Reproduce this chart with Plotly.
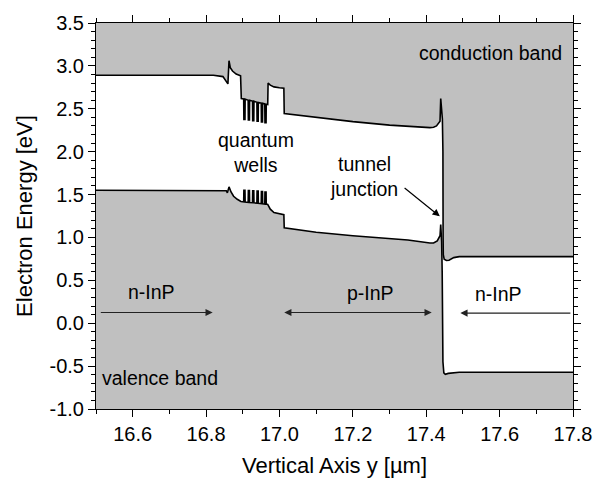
import plotly.graph_objects as go

# ---------------- data ----------------
# Conduction band edge
cb_x = [16.500, 16.820, 16.846, 16.8585, 16.8595, 16.8625, 16.866, 16.872, 16.882, 16.894, 16.896,
        16.9025, 16.9030, 16.9060, 16.9065,
        16.9147, 16.9152, 16.9182, 16.9187,
        16.9265, 16.9270, 16.9300, 16.9305,
        16.9385, 16.9390, 16.9420, 16.9425,
        16.9503, 16.9508, 16.9538, 16.9543,
        16.9600, 16.9605, 16.9635, 16.9640,
        16.968, 16.969, 16.975, 16.985, 17.000, 17.012, 17.013,
        17.100, 17.200, 17.300, 17.380, 17.410, 17.420, 17.428, 17.4376, 17.4395,
        17.4440, 17.4455, 17.4460, 17.4465, 17.449, 17.455, 17.462, 17.475, 17.490, 17.800]
cb_y = [2.890, 2.890, 2.875, 2.800, 2.790, 3.060, 2.980, 2.940, 2.905, 2.885, 2.620,
        2.615, 2.375, 2.375, 2.613,
        2.600, 2.370, 2.370, 2.598,
        2.590, 2.360, 2.360, 2.588,
        2.575, 2.355, 2.355, 2.573,
        2.565, 2.345, 2.345, 2.563,
        2.556, 2.337, 2.337, 2.554,
        2.550, 2.800, 2.775, 2.755, 2.745, 2.740, 2.444,
        2.400, 2.350, 2.310, 2.285, 2.280, 2.285, 2.300, 2.355, 2.620,
        2.380, 2.000, 1.000, 0.800, 0.745, 0.732, 0.735, 0.765, 0.776, 0.776]

# Valence band edge
vb_x = [16.500, 16.840, 16.855, 16.858, 16.8625, 16.868, 16.875, 16.885, 16.895,
        16.9025, 16.9030, 16.9060, 16.9065,
        16.9147, 16.9152, 16.9182, 16.9187,
        16.9265, 16.9270, 16.9300, 16.9305,
        16.9385, 16.9390, 16.9420, 16.9425,
        16.9503, 16.9508, 16.9538, 16.9543,
        16.9600, 16.9605, 16.9635, 16.9640,
        16.968, 16.970, 16.975, 16.985, 17.000, 17.012, 17.013,
        17.100, 17.200, 17.274, 17.350, 17.410, 17.420, 17.430, 17.4376, 17.4395,
        17.4420, 17.4435, 17.4445, 17.4455, 17.448, 17.452, 17.460, 17.475, 17.490, 17.800]
vb_y = [1.550, 1.550, 1.545, 1.520, 1.590, 1.530, 1.480, 1.445, 1.420,
        1.415, 1.550, 1.550, 1.413,
        1.410, 1.548, 1.548, 1.408,
        1.405, 1.545, 1.545, 1.403,
        1.400, 1.540, 1.540, 1.398,
        1.395, 1.535, 1.535, 1.393,
        1.390, 1.530, 1.530, 1.388,
        1.385, 1.370, 1.330, 1.290, 1.272, 1.265, 1.112,
        1.060, 1.020, 0.997, 0.970, 0.935, 0.935, 0.960, 1.020, 1.150,
        0.950, 0.600, 0.000, -0.450, -0.580, -0.595, -0.585, -0.575, -0.572, -0.572]

# Tick labels
x_tick_vals = [16.6, 16.8, 17.0, 17.2, 17.4, 17.6, 17.8]
x_tick_text = ["16.6", "16.8", "17.0", "17.2", "17.4", "17.6", "17.8"]
y_tick_vals = [-1.0, -0.5, 0.0, 0.5, 1.0, 1.5, 2.0, 2.5, 3.0, 3.5]
y_tick_text = ["-1.0", "-0.5", "0.0", "0.5", "1.0", "1.5", "2.0", "2.5", "3.0", "3.5"]

# Region labels: text, x, y
region_labels = ["n-InP", "p-InP", "n-InP"]
region_label_x = [16.651, 17.249, 17.596]
region_label_y = [0.366, 0.350, 0.338]

# Region arrows: (tail x, head x, y, double-headed)
arrow_tail_x = [16.509, 17.009, 17.797]
arrow_head_x = [16.818, 17.415, 17.493]
arrow_y = [0.125, 0.125, 0.118]
arrow_double = [False, True, False]

# ---------------- figure ----------------
FONT = "Liberation Sans, Arial, sans-serif"
GRAY = "#c0c0c0"
ANN_SIZE = 19.5

fig = go.Figure()

# white gap between the bands
fig.add_trace(go.Scatter(
    x=vb_x + cb_x[::-1], y=vb_y + cb_y[::-1],
    fill="toself", fillcolor="white", mode="lines",
    line=dict(width=0, color="rgba(0,0,0,0)"), hoverinfo="skip", showlegend=False))

fig.add_trace(go.Scatter(x=cb_x, y=cb_y, mode="lines",
                         line=dict(color="black", width=1.6), showlegend=False))
fig.add_trace(go.Scatter(x=vb_x, y=vb_y, mode="lines",
                         line=dict(color="black", width=1.6), showlegend=False))

ann = []
for t, x, y in zip(region_labels, region_label_x, region_label_y):
    ann.append(dict(x=x, y=y, text=t, showarrow=False, xref="x", yref="y",
                    font=dict(size=ANN_SIZE, color="black", family=FONT)))

for tx, hx, y, dbl in zip(arrow_tail_x, arrow_head_x, arrow_y, arrow_double):
    ann.append(dict(x=hx, y=y, ax=tx, ay=y, xref="x", yref="y", axref="x", ayref="y",
                    text="", showarrow=True, arrowhead=2, startarrowhead=2,
                    arrowside="end+start" if dbl else "end",
                    arrowsize=1.2, startarrowsize=1.2, arrowwidth=1.2, arrowcolor="#222222"))

ann.append(dict(x=17.574, y=3.156, text="conduction band", showarrow=False,
                font=dict(size=ANN_SIZE, color="black", family=FONT)))
ann.append(dict(x=16.674, y=-0.633, text="valence band", showarrow=False,
                font=dict(size=ANN_SIZE, color="black", family=FONT)))
ann.append(dict(x=16.937, y=1.985, text="quantum<br>wells", showarrow=False,
                font=dict(size=ANN_SIZE, color="black", family=FONT)))
ann.append(dict(x=17.231, y=1.71, text="tunnel<br>junction", showarrow=False,
                font=dict(size=ANN_SIZE, color="black", family=FONT)))
ann.append(dict(x=17.437, y=1.246, ax=17.337, ay=1.591, xref="x", yref="y",
                axref="x", ayref="y", text="", showarrow=True, arrowhead=2,
                arrowsize=1.2, arrowwidth=1.2, arrowcolor="black"))

fig.update_layout(
    width=605, height=480,
    margin=dict(l=96, r=32, t=17, b=71),
    paper_bgcolor="white", plot_bgcolor=GRAY,
    font=dict(family=FONT, color="black", size=20),
    annotations=ann, hovermode=False, showlegend=False,
)

fig.update_xaxes(
    range=[16.5, 17.8], tickmode="array", tickvals=x_tick_vals, ticktext=x_tick_text,
    ticks="outside", ticklen=7, tickwidth=1, tickcolor="black",
    minor=dict(tickmode="linear", tick0=16.5, dtick=0.1, ticks="outside", ticklen=4,
               tickcolor="black", tickwidth=1),
    showline=True, linecolor="black", linewidth=1, mirror="allticks",
    showgrid=False, zeroline=False, automargin=False,
    tickfont=dict(size=20, family=FONT),
    title=dict(text="Vertical Axis y [µm]", font=dict(size=22, family=FONT), standoff=13),
)
fig.update_yaxes(
    range=[-1.0, 3.5], tickmode="array", tickvals=y_tick_vals, ticktext=y_tick_text,
    ticks="outside", ticklen=7, tickwidth=1, tickcolor="black",
    minor=dict(tickmode="linear", tick0=-1.0, dtick=0.1, ticks="outside", ticklen=4,
               tickcolor="black", tickwidth=1),
    showline=True, linecolor="black", linewidth=1, mirror="allticks",
    showgrid=False, zeroline=False,
    tickfont=dict(size=20, family=FONT),
    title=dict(text="Electron Energy [eV]", font=dict(size=22, family=FONT), standoff=10),
)

fig.write_html("out.html")
